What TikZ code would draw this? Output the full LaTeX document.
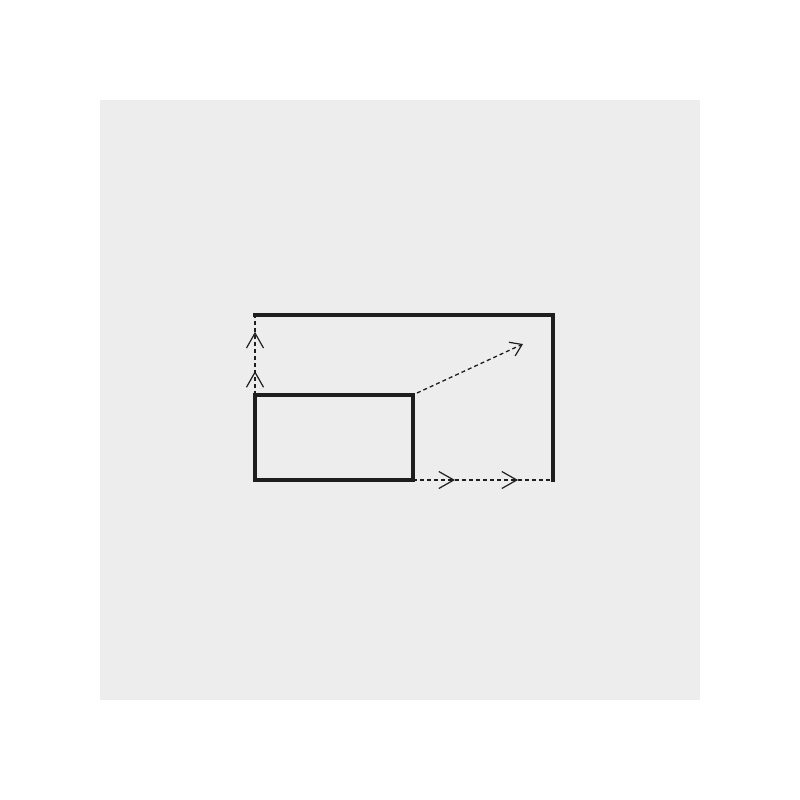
\documentclass[tikz,border=0pt]{standalone}
\usetikzlibrary{arrows.meta,decorations.markings}
\definecolor{bgpanel}{HTML}{EDEDED}
\definecolor{ink}{HTML}{1E1E1E}
\tikzset{barb/.tip={Straight Barb[length=15pt,width=17pt,line width=1.2pt]},
  diagbarb/.tip={Straight Barb[length=11pt,width=15pt,line width=1.2pt]}}
\begin{document}
\begin{tikzpicture}[x=1pt,y=-1pt,
  thickline/.style={draw=ink,line width=3.4pt},
  dashline/.style={draw=ink,line width=1.7pt,dash pattern=on 4pt off 3pt},
  midarrows/.style 2 args={postaction={decorate},decoration={markings,
    mark=at position #1 with {\arrow[solid,ink]{barb}},
    mark=at position #2 with {\arrow[solid,ink]{barb}}}}]
\useasboundingbox (0,0) rectangle (800,800);
\fill[white] (0,0) rectangle (800,800);
\fill[bgpanel] (100,100) rectangle (700,700);
\node[thickline,minimum width=158pt,minimum height=85pt,inner sep=0pt,outer sep=0pt] (box) at (334,437.5) {};
\coordinate (tl) at (255,315);
\coordinate (tr) at (553,315);
\coordinate (br) at (553,480);
\coordinate (diagstart) at (417,393);
\coordinate (diagtip) at (523,344);
\draw[thickline,line cap=rect] (tl) -- (tr) -- (br);
\draw[dashline,midarrows={0.3}{0.79}] (box.north west) -- (tl);
\draw[dashline,midarrows={0.3}{0.75}] (box.south east) -- (br);
\draw[dashline,line width=1.3pt,-diagbarb] (diagstart) -- (diagtip);
\end{tikzpicture}
\end{document}
